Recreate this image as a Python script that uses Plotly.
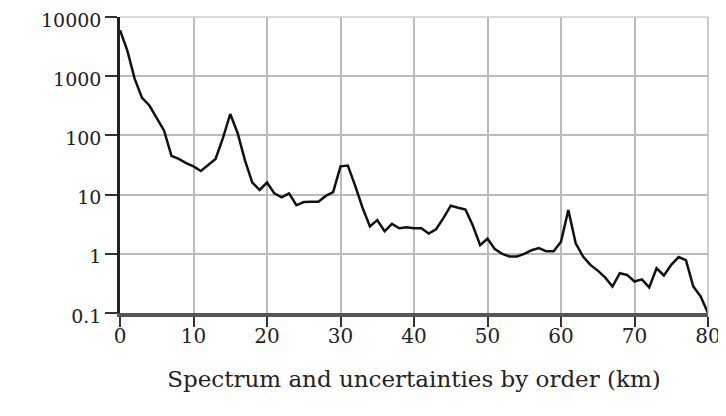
import plotly.graph_objects as go

order = list(range(0, 81))
spectrum = [
    6000, 2700, 900, 430, 320, 200, 120, 45, 40, 34,
    30, 25, 32, 40, 90, 230, 110, 38, 16, 12,
    16, 10.5, 9, 10.5, 6.6, 7.5, 7.6, 7.6, 9.5, 11,
    30, 31, 14, 6, 2.9, 3.7, 2.4, 3.2, 2.7, 2.8,
    2.7, 2.7, 2.2, 2.6, 4, 6.5, 6, 5.6, 3, 1.4,
    1.8, 1.2, 1.0, 0.9, 0.9, 1.0, 1.15, 1.25, 1.1, 1.1,
    1.6, 5.5, 1.5, 0.9, 0.65, 0.52, 0.4, 0.28, 0.47, 0.44,
    0.34, 0.37, 0.27, 0.57, 0.43, 0.65, 0.88, 0.78, 0.28, 0.19,
    0.1,
]
x_ticks = [0, 10, 20, 30, 40, 50, 60, 70, 80]
y_ticks = [0.1, 1, 10, 100, 1000, 10000]
y_tick_labels = ["0.1", "1", "10", "100", "1000", "10000"]
x_title = "Spectrum and uncertainties by order (km)"

font_family = "DejaVu Serif"

fig = go.Figure()
fig.add_trace(go.Scatter(
    x=order, y=spectrum, mode="lines",
    line=dict(color="#111111", width=2.5),
    showlegend=False,
))

fig.update_layout(
    width=718, height=408,
    margin=dict(l=112, r=18, t=9, b=103),
    paper_bgcolor="white", plot_bgcolor="white",
    font=dict(family=font_family, color="#222222", size=20),
)
fig.update_xaxes(
    range=[0, 80], tickvals=x_ticks,
    showgrid=True, gridcolor="#bbbbbb", gridwidth=1.5,
    showline=True, linecolor="#555555", linewidth=4,
    ticks="outside", ticklen=10, tickcolor="#333333", tickwidth=1.5,
    tickfont=dict(size=20, family=font_family),
    ticklabelstandoff=-8, ticklabeloverflow="allow",
    zeroline=False, automargin=False,
    title=dict(text=x_title, font=dict(size=23, family=font_family), standoff=25),
)
fig.update_yaxes(
    type="log", range=[-1, 4], tickvals=y_ticks, ticktext=y_tick_labels,
    showgrid=True, gridcolor="#bbbbbb", gridwidth=1.5,
    showline=True, linecolor="#222222", linewidth=2.5,
    ticks="outside", ticklen=12, tickcolor="#333333", tickwidth=1.5,
    tickfont=dict(size=19, family=font_family),
    ticklabeloverflow="allow", ticklabelshift=3,
    zeroline=False, automargin=False,
)
fig.add_shape(type="line", xref="paper", yref="paper", x0=0, x1=1, y0=1, y1=1,
              line=dict(color="#cccccc", width=1.5))
fig.add_shape(type="line", xref="paper", yref="paper", x0=1, x1=1, y0=0, y1=1,
              line=dict(color="#bbbbbb", width=1.5))

fig.write_html("out.html")
